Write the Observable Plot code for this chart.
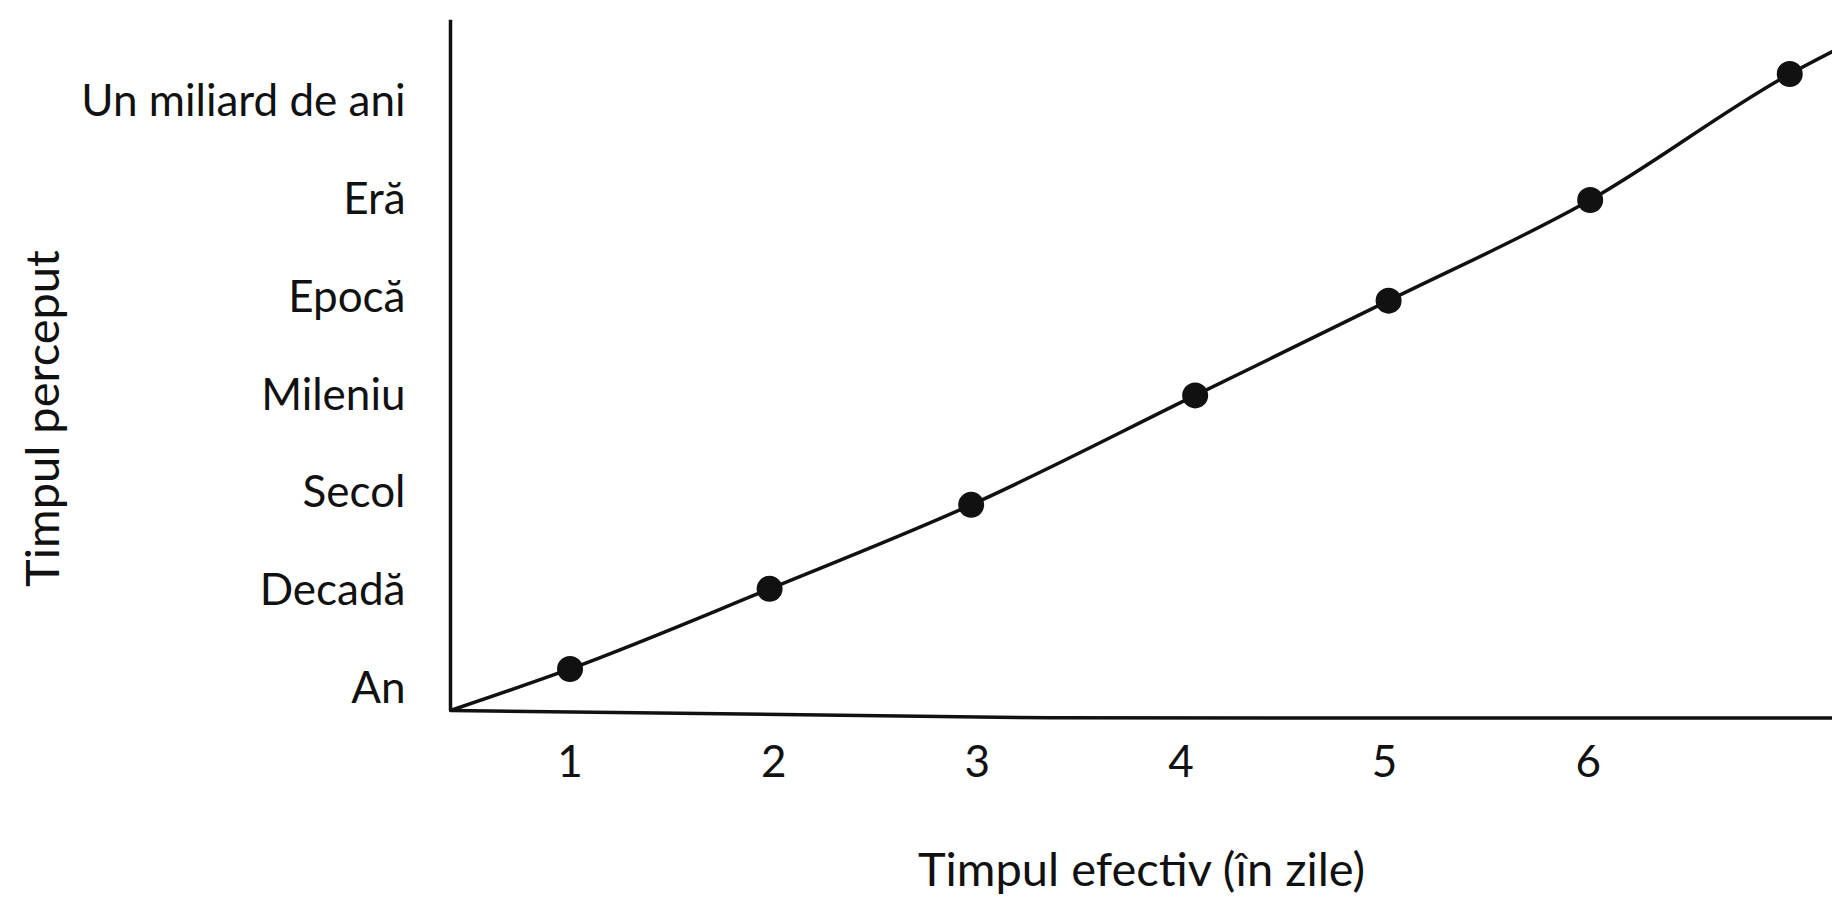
<!DOCTYPE html>
<html>
<head>
<meta charset="utf-8">
<script src="https://cdn.jsdelivr.net/npm/d3@7"></script>
<script src="https://cdn.jsdelivr.net/npm/@observablehq/plot@0.6"></script>
<style>
  html, body { margin: 0; padding: 0; background: #fff; }
</style>
</head>
<body>
<div id="chart"></div>
<script>
// Effective time (days, as drawn) vs perceived time (level on the y scale)
const days = [1.0, 1.98, 2.97, 4.07, 5.02, 6.01, 6.99];
const perceivedLevel = [1.2, 2.02, 2.88, 4.0, 4.97, 6.0, 7.29];

// Y tick labels (perceived time units) and their levels
const levelValues = [1, 2, 3, 4, 5, 6, 7];
const levelLabels = ["An", "Decadă", "Secol", "Mileniu", "Epocă", "Eră", "Un miliard de ani"];

// X tick labels
const dayTicks = [1, 2, 3, 4, 5, 6];

// Origin of the hand-drawn axes and where the curve leaves the picture
const originDay = 0.413;
const originLevel = 0.775;
const curveEndDay = 7.35;
const curveEndLevel = 7.68;
const axisTopLevel = 7.84;
const axisRightDay = 7.2;
// hand-drawn x axis sags slightly towards the right
const xAxisDays = [originDay, 3.36, axisRightDay];
const xAxisLevels = [originLevel, 0.7, 0.697];

const xTitle = "Timpul efectiv (în zile)";
const yTitle = "Timpul perceput";

const points = days.map((d, i) => ({day: d, level: perceivedLevel[i]}));
const curve = [{day: originDay, level: originLevel}, ...points, {day: curveEndDay, level: curveEndLevel}];
const xAxisPath = xAxisDays.map((d, i) => ({day: d, level: xAxisLevels[i]}));

const font = "Lato, 'Open Sans', sans-serif";

const chart = Plot.plot({
  width: 1832,
  height: 905,
  marginLeft: 450,
  marginRight: 0,
  marginTop: 0,
  marginBottom: 195,
  style: {fontFamily: font, fontSize: "44px", color: "#111", background: "#fff"},
  x: {domain: [originDay, axisRightDay]},
  y: {domain: [originLevel, originLevel + 710 / 97.7]},
  marks: [
    Plot.axisY(levelValues, {
      tickSize: 0, tickPadding: 45, fontSize: 44, label: null,
      tickFormat: d => levelLabels[levelValues.indexOf(d)]
    }),
    Plot.axisX(dayTicks, {tickSize: 0, tickPadding: 35, fontSize: 44, label: null, tickFormat: d => String(d)}),
    Plot.ruleX([originDay], {y1: originLevel, y2: axisTopLevel, stroke: "#111", strokeWidth: 3.5}),
    Plot.line(xAxisPath, {x: "day", y: "level", stroke: "#111", strokeWidth: 3.5}),
    Plot.line(curve, {x: "day", y: "level", stroke: "#111", strokeWidth: 3.5, curve: "monotone-x", clip: true}),
    Plot.dot(points, {x: "day", y: "level", r: 13, fill: "#111", stroke: null}),
    Plot.text([yTitle], {frameAnchor: "left", dx: -407, dy: 63, rotate: -90, fontSize: 47, textAnchor: "middle", lineAnchor: "middle", fill: "#111"}),
    Plot.text([xTitle], {frameAnchor: "bottom", dx: 0, dy: 160, fontSize: 47, textAnchor: "middle", lineAnchor: "middle", fill: "#111"})
  ]
});
document.getElementById("chart").appendChild(chart);
</script>
</body>
</html>
